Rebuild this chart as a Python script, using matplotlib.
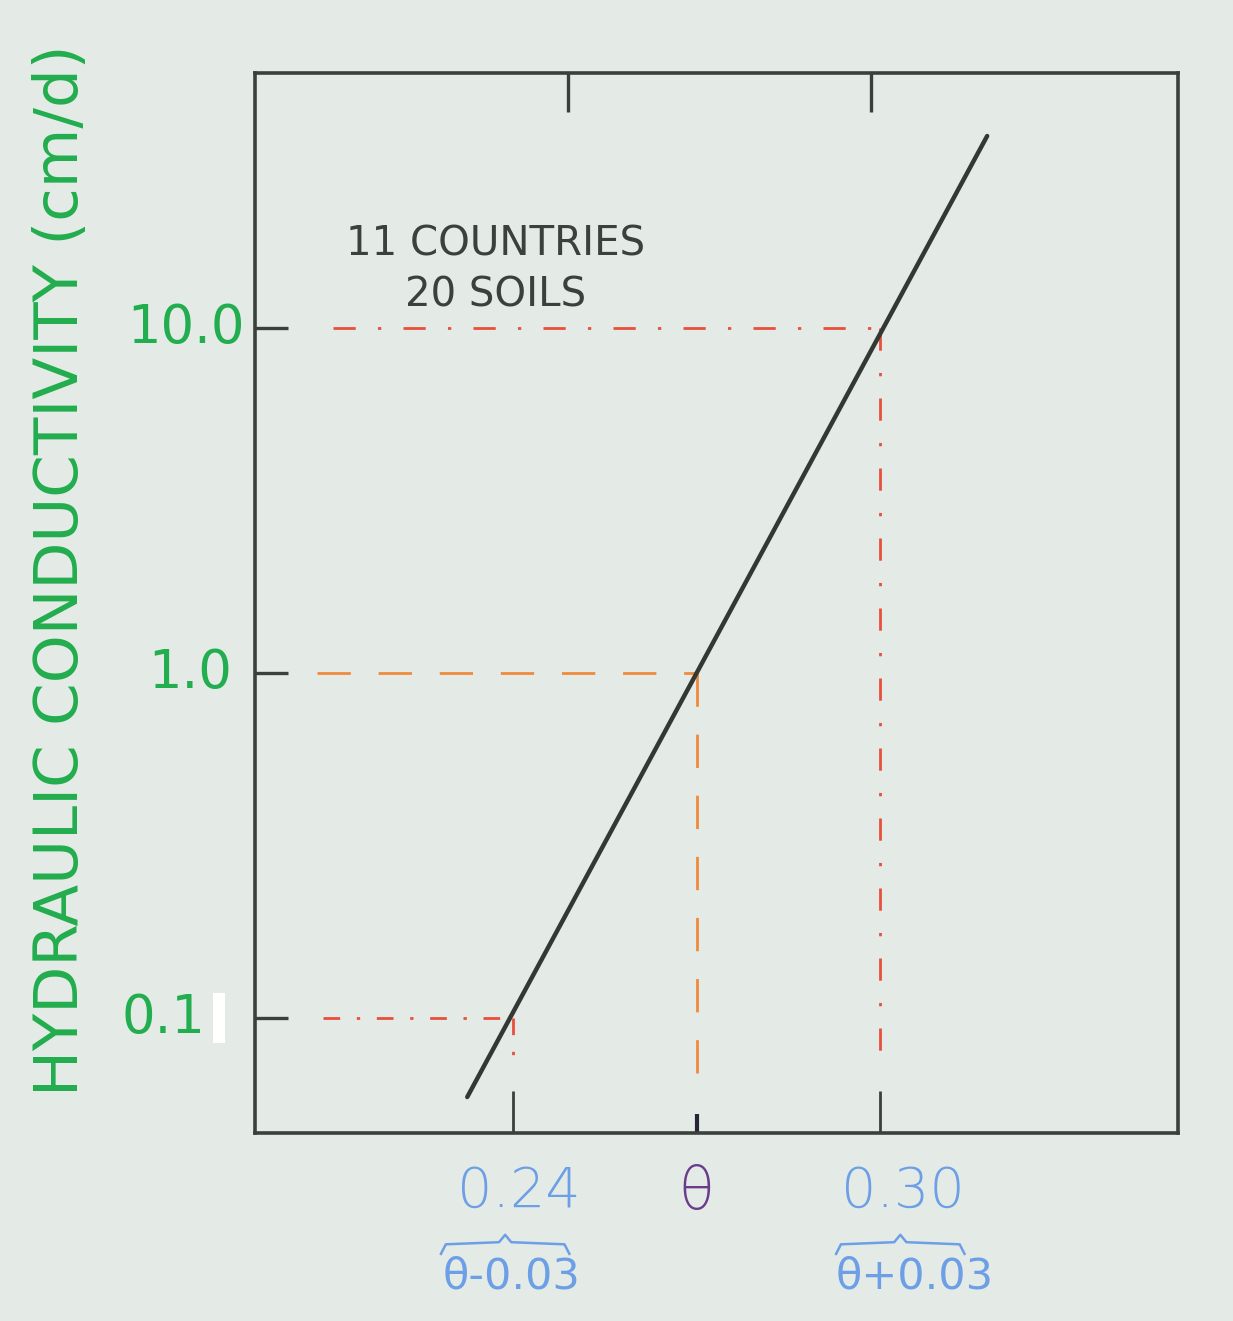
import matplotlib.pyplot as plt
from matplotlib.lines import Line2D
from matplotlib.patches import Rectangle

# data (theta vs hydraulic conductivity, log scale)
line_theta = [0.2325, 0.3175]
line_k = [0.059, 36.0]

ref_theta = [0.24, 0.27, 0.30]
ref_k = [0.1, 1.0, 10.0]
ref_start = [0.2090, 0.2080, 0.2105]   # where the horizontal guide dashes start
ref_bottom = [0.072, 0.058, 0.076]     # where the vertical guide dashes stop
ref_colors = ["#e8503c", "#f08a3c", "#e8503c"]
ref_dashes = [(6, 6, 1.2, 6), (12, 10), (8, 8, 1.2, 8)]

ytick_vals = [0.1, 1.0, 10.0]
ytick_labels = ["0.1", "1.0", "10.0"]
ytick_right = [-0.054, -0.025, -0.011]   # hand-lettered labels are not aligned
xtick_vals = [0.24, 0.27, 0.30]
xtick_labels = ["0.24", "θ", "0.30"]
xtick_shift = [0.001, 0.0, 0.0037]
xtick_colors = ["#6d9fe6", "#6a3c8c", "#6d9fe6"]
xsub_labels = ["θ-0.03", "", "θ+0.03"]
xsub_shift = [-0.0003, 0.0, 0.0057]
brace_shift = [-0.0013, 0.0, 0.0033]
top_ticks = [0.249, 0.2985]

bg = "#e4ebe6"
ink = "#3b403c"
green = "#22ad4e"

fig = plt.figure(figsize=(12.33, 13.21), dpi=100, facecolor=bg)
ax = fig.add_axes([0.2068, 0.1423, 0.7486, 0.8024], facecolor=bg)
ax.set_yscale("log")
ax.set_xlim(0.1978, 0.3487)
ax.set_ylim(0.0464, 54.8)

ax.plot(line_theta, line_k, color="#333833", lw=3.2, solid_capstyle="round", zorder=3)

for th, k, x0, yb, c, d in zip(ref_theta, ref_k, ref_start, ref_bottom, ref_colors, ref_dashes):
    ax.plot([x0, th], [k, k], color=c, lw=2.0, dashes=d, zorder=2)
    ax.plot([th, th], [k, yb], color=c, lw=2.0, dashes=d, zorder=2)

for s in ax.spines.values():
    s.set_color(ink)
    s.set_linewidth(2.6)

ax.set_yticks(ytick_vals)
ax.set_yticklabels([])
ax.yaxis.set_minor_locator(plt.NullLocator())
ax.tick_params(axis="y", direction="in", length=24, width=2.4, color=ink)
for yv, lab, xr in zip(ytick_vals, ytick_labels, ytick_right):
    ax.text(xr, yv, lab, transform=ax.get_yaxis_transform(), ha="right", va="center",
            fontsize=38, color=green)

# major ticks at the two numbers, short minor tick at theta
ax.set_xticks([xtick_vals[0], xtick_vals[2]])
ax.set_xticks([xtick_vals[1]], minor=True)
ax.set_xticklabels([])
ax.tick_params(axis="x", which="major", direction="in", length=30, width=2.0, color=ink)
ax.tick_params(axis="x", which="minor", direction="in", length=14, width=3.0, color="#2a2438")
xt = ax.get_xaxis_transform()
for tx, lab, dx, c, sub, sdx, bdx in zip(xtick_vals, xtick_labels, xtick_shift, xtick_colors,
                                         xsub_labels, xsub_shift, brace_shift):
    is_theta = lab == "θ"
    ax.text(tx + dx, -0.056, lab, transform=xt, ha="center", va="center",
            fontsize=42 if is_theta else 40, color=c, fontweight="light")
    if sub:
        ax.text(tx + sdx, -0.135, sub, transform=xt, ha="center", va="center",
                fontsize=31, color=c)
        # small overbrace above the sub label
        bc = tx + bdx
        bx = [bc - 0.0105, bc - 0.0097, bc - 0.001, bc, bc + 0.001, bc + 0.0097, bc + 0.0105]
        by = [-0.114, -0.105, -0.103, -0.096, -0.103, -0.105, -0.114]
        ax.add_line(Line2D(bx, by, transform=xt, color=c, lw=1.8, clip_on=False))

sec = ax.secondary_xaxis("top")
sec.set_xticks(top_ticks)
sec.set_xticklabels([])
sec.tick_params(direction="in", length=28, width=2.4, color=ink)
sec.spines["top"].set_visible(False)

ax.text(0.261, 0.814, "11 COUNTRIES\n20 SOILS", transform=ax.transAxes, ha="center",
        va="center", fontsize=29, color=ink, linespacing=1.35)

fig.text(0.050, 0.568, "HYDRAULIC CONDUCTIVITY (cm/d)", rotation=90, ha="center",
         va="center", fontsize=44, color=green)

# white scanner blotch next to the 0.1 label
fig.patches.append(Rectangle((0.1727, 0.2105), 0.0097, 0.0375, transform=fig.transFigure,
                             facecolor="white", edgecolor="none"))

plt.savefig("out.png", dpi=100, facecolor=bg)
